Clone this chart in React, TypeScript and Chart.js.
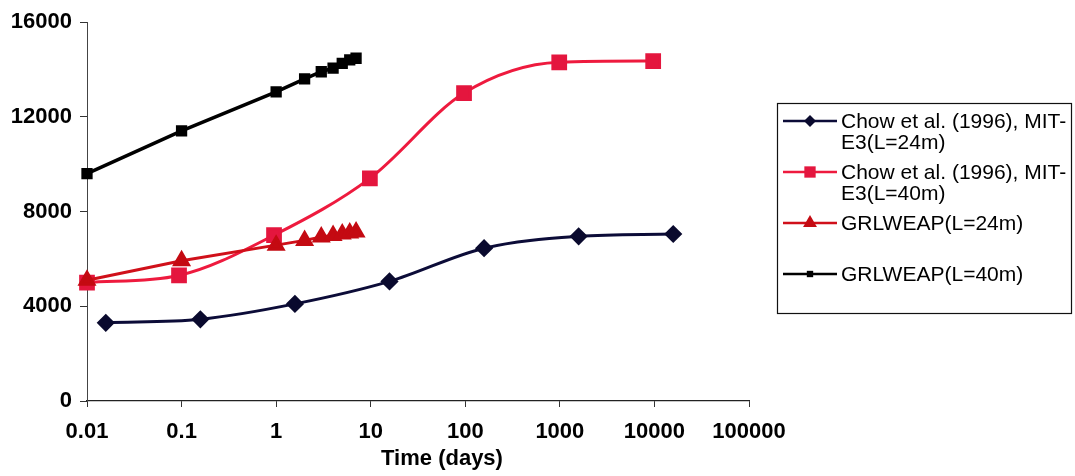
import { useEffect, useRef } from "react";
import { Chart, registerables } from "chart.js";

Chart.register(...registerables);

// Pile capacity vs. time after installation (log time axis)
const chow24Time = [0.0158, 0.158, 1.58, 15.8, 158, 1580, 15800];
const chow24Load = [3300, 3450, 4100, 5050, 6450, 6950, 7050];

const chow40Time = [0.01, 0.094, 0.95, 9.8, 97, 985, 9700];
const chow40Load = [5000, 5300, 7000, 9400, 13000, 14300, 14350];

const grl24Time = [0.01, 0.1, 1, 2, 3, 4, 5, 6, 7];
const grl24Load = [5100, 5920, 6580, 6780, 6920, 6990, 7050, 7090, 7130];

const grl40Time = [0.01, 0.1, 1, 2, 3, 4, 5, 6, 7];
const grl40Load = [9600, 11400, 13050, 13600, 13900, 14050, 14250, 14400, 14470];

const xTickValues = [0.01, 0.1, 1, 10, 100, 1000, 10000, 100000];
const xTickLabels = ["0.01", "0.1", "1", "10", "100", "1000", "10000", "100000"];
const yTickLabels = ["0", "4000", "8000", "12000", "16000"];

const seriesNames = [
  ["Chow et al. (1996), MIT-", "E3(L=24m)"],
  ["Chow et al. (1996), MIT-", "E3(L=40m)"],
  ["GRLWEAP(L=24m)"],
  ["GRLWEAP(L=40m)"],
];

const xTitle = "Time (days)";

const FONT = "'Liberation Sans', Arial, sans-serif";

const toPoints = (xs: number[], ys: number[]) => xs.map((x, i) => ({ x, y: ys[i] }));

function drawMarker(
  ctx: CanvasRenderingContext2D,
  style: string,
  x: number,
  y: number,
  r: number,
  color: string
) {
  ctx.save();
  ctx.fillStyle = color;
  ctx.beginPath();
  if (style === "rectRot") {
    ctx.moveTo(x, y - r);
    ctx.lineTo(x + r, y);
    ctx.lineTo(x, y + r);
    ctx.lineTo(x - r, y);
  } else if (style === "triangle") {
    const w = (r * Math.sqrt(3)) / 2;
    ctx.moveTo(x, y - r);
    ctx.lineTo(x + w, y + r / 2);
    ctx.lineTo(x - w, y + r / 2);
  } else {
    const s = r * Math.SQRT1_2;
    ctx.rect(x - s, y - s, 2 * s, 2 * s);
  }
  ctx.closePath();
  ctx.fill();
  ctx.restore();
}

// Boxed legend with wrapped labels, plus the x-axis title
const legendPlugin = {
  id: "boxedLegend",
  afterDraw(chart: any) {
    const ctx: CanvasRenderingContext2D = chart.ctx;
    const box = { left: 777, top: 103, right: 1071, bottom: 313 };
    ctx.save();
    ctx.strokeStyle = "#111";
    ctx.lineWidth = 1.2;
    ctx.strokeRect(box.left + 0.5, box.top + 0.5, box.right - box.left, box.bottom - box.top);

    const firstY = 121;
    const step = 51;
    const lineGap = 21;
    const sampleL = 783;
    const sampleR = 837;
    const textX = 841;
    ctx.font = `21px ${FONT}`;
    ctx.textBaseline = "middle";
    ctx.textAlign = "left";

    chart.data.datasets.forEach((ds: any, i: number) => {
      const y = firstY + i * step;
      ctx.strokeStyle = ds.borderColor;
      ctx.lineWidth = 2.5;
      ctx.beginPath();
      ctx.moveTo(sampleL, y);
      ctx.lineTo(sampleR, y);
      ctx.stroke();
      drawMarker(ctx, ds.pointStyle, (sampleL + sampleR) / 2, y, ds.legendRadius, ds.pointBackgroundColor);
      ctx.fillStyle = "#000";
      seriesNames[i].forEach((line, k) => {
        ctx.fillText(line, textX, y + 1 + k * lineGap);
      });
    });

    // axis title
    const area = chart.chartArea;
    ctx.font = `bold 22px ${FONT}`;
    ctx.textAlign = "center";
    ctx.fillStyle = "#000";
    ctx.fillText(xTitle, (area.left + area.right) / 2 + 24, area.bottom + 58);
    ctx.restore();
  },
};

export default function App() {
  const canvasRef = useRef<HTMLCanvasElement | null>(null);

  useEffect(() => {
    const canvas = canvasRef.current;
    if (!canvas) return;

    const tickFont = { family: FONT, size: 22, weight: "bold" as const };

    const chart = new Chart(canvas, {
      type: "line",
      data: {
        datasets: [
          {
            label: seriesNames[0].join(""),
            data: toPoints(chow24Time, chow24Load),
            borderColor: "#0c0c38",
            backgroundColor: "#0c0c38",
            pointBackgroundColor: "#0a0a2e",
            pointBorderColor: "#0a0a2e",
            pointStyle: "rectRot",
            pointRadius: 7,
            borderWidth: 3,
            cubicInterpolationMode: "monotone",
            clip: false,
            order: 0,
            legendRadius: 6,
          } as any,
          {
            label: seriesNames[1].join(""),
            data: toPoints(chow40Time, chow40Load),
            borderColor: "#ee1a3e",
            backgroundColor: "#e4163e",
            pointBackgroundColor: "#e4163e",
            pointBorderColor: "#e4163e",
            pointStyle: "rect",
            pointRadius: 9,
            borderWidth: 3,
            cubicInterpolationMode: "monotone",
            clip: false,
            order: 2,
            legendRadius: 8,
          } as any,
          {
            label: seriesNames[2].join(""),
            data: toPoints(grl24Time, grl24Load),
            borderColor: "#d0101a",
            backgroundColor: "#c40a12",
            pointBackgroundColor: "#c40a12",
            pointBorderColor: "#c40a12",
            pointStyle: "triangle",
            pointRadius: 8,
            borderWidth: 3,
            tension: 0,
            clip: false,
            order: 1,
            legendRadius: 8,
          } as any,
          {
            label: seriesNames[3].join(""),
            data: toPoints(grl40Time, grl40Load),
            borderColor: "#000000",
            backgroundColor: "#000000",
            pointBackgroundColor: "#000000",
            pointBorderColor: "#000000",
            pointStyle: "rect",
            pointRadius: 5.5,
            borderWidth: 3.5,
            tension: 0,
            clip: false,
            order: 3,
            legendRadius: 4.5,
          } as any,
        ],
      },
      options: {
        responsive: false,
        animation: false,
        layout: { padding: { left: 0, top: 22, right: 326, bottom: 0 } },
        plugins: {
          legend: { display: false },
          tooltip: { enabled: false },
        },
        scales: {
          x: {
            type: "logarithmic",
            min: 0.01,
            max: 100000,
            afterBuildTicks: (scale: any) => {
              scale.ticks = xTickValues.map((v) => ({ value: v }));
            },
            afterFit: (scale: any) => {
              scale.height = 75;
            },
            ticks: {
              autoSkip: false,
              maxRotation: 0,
              padding: 12,
              color: "#000",
              font: tickFont,
              callback: (_v: any, i: number) => xTickLabels[i],
            },
            grid: {
              drawOnChartArea: false,
              drawTicks: true,
              tickLength: 6,
              color: "#333",
              lineWidth: 1,
            },
            border: { display: true, color: "#222", width: 1.2 },
          },
          y: {
            type: "linear",
            min: 0,
            max: 16000,
            afterFit: (scale: any) => {
              scale.width = 87;
            },
            ticks: {
              stepSize: 4000,
              padding: 8,
              color: "#000",
              font: tickFont,
              callback: (_v: any, i: number) => yTickLabels[i],
            },
            grid: {
              drawOnChartArea: false,
              drawTicks: true,
              tickLength: 7,
              color: "#333",
              lineWidth: 1,
            },
            border: { display: true, color: "#444", width: 1 },
          },
        },
      },
      plugins: [legendPlugin],
    });

    return () => chart.destroy();
  }, []);

  return (
    <div
      style={{
        position: "fixed",
        left: 0,
        top: 0,
        width: 1075,
        height: 476,
        background: "#fff",
      }}
    >
      <canvas ref={canvasRef} width={1075} height={476} />
    </div>
  );
}
